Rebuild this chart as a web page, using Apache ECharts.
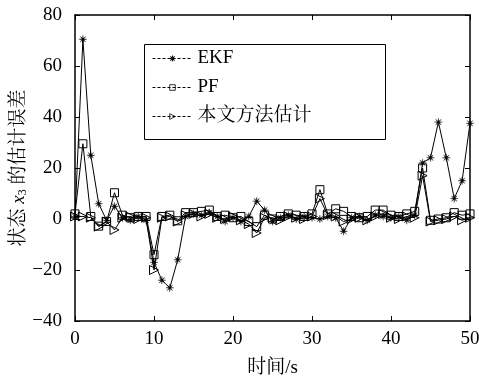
<!DOCTYPE html>
<html>
<head>
<meta charset="utf-8">
<script src="https://cdn.jsdelivr.net/npm/echarts@6/dist/echarts.min.js"></script>
<style>html,body{margin:0;padding:0;background:#fff}#c{width:479px;height:379px}</style>
</head>
<body>
<div id="c"></div>
<script>
var timeSteps = [];
for (var i = 0; i <= 50; i++) timeSteps.push(i);
var xTicks = [0, 10, 20, 30, 40, 50];
var yTicks = [-40, -20, 0, 20, 40, 60, 80];
var seriesNames = ['EKF', 'PF', '本文方法估计'];
var ekfErr = [1, 70.5, 25, 6, -0.5, 5, 0.5, -0.5, 1, -0.5, -17, -24, -27, -16, 1, 2, 1.5, 2.5, 1, -1, 0.5, -1, 1, 7, 3.5, -1, 0.5, 1.5, 0, 1, 0.5, 0, 1, 0.5, -4.8, 0.5, 1, -0.5, 1.5, 1, 0.5, 1, -0.5, 1.5, 22, 24, 38, 24, 8, 15, 37.5];
var pfErr = [2, 29.5, 1, -2.8, -1, 10.3, 1.5, 0.5, 1, 1, -14, 1, 1.5, -0.7, 2.5, 2.5, 3, 3.5, 1, 1.5, 0.5, 1, -1, -3, 1.5, 0, 1, 2, 1.5, 1, 2, 11.5, 2, 4, 3, 1, 0.5, 1, 3.5, 3.5, 1.5, 1, 2, 3, 20, -0.5, 0, 0.5, 2.5, 1.5, 2];
var oursErr = [1, 1, 0.5, -3, -1, -4.3, 0.5, 1, 0, 0.5, -20, 0.5, 1, -1, 1.5, 2, 1, 2, 0.5, 0, 1, -0.5, -2, -5.5, 0.5, 0.5, -0.5, 1, 0.5, 0, 1, 8, 1.5, 1, -1, 0, 0.5, -0.5, 1, 2, 0.5, 0, 1, 0.5, 17, -1, -0.5, 0, 1, -0.5, 0.5];

function pairs(arr) { return arr.map(function (v, i) { return [timeSteps[i], v]; }); }

var font = '"Liberation Serif", "Times New Roman", "Noto Serif CJK SC", "Noto Sans CJK SC", serif';
var starPath = 'path://M5,0 L5.5,3.8 L8.5,1.5 L6.2,4.5 L10,5 L6.2,5.5 L8.5,8.5 L5.5,6.2 L5,10 L4.5,6.2 L1.5,8.5 L3.8,5.5 L0,5 L3.8,4.5 L1.5,1.5 L4.5,3.8 Z';
var triPath = 'path://M0,0 L10,5 L0,10 Z';

var chart = echarts.init(document.getElementById('c'), null, {renderer: 'canvas'});
var axisLine = {show: true, onZero: false, lineStyle: {color: '#000', width: 1.5}};
var tickStyle = {show: true, inside: true, length: 5, lineStyle: {color: '#000', width: 1}};
chart.setOption({
  animation: false,
  backgroundColor: '#fff',
  grid: {left: 75, right: 9, top: 15, bottom: 58, containLabel: false, outerBoundsMode: 'none'},
  graphic: [{
    type: 'rect', left: 142, top: 42, z: 50, silent: true,
    shape: {width: 241, height: 95},
    style: {fill: 'none', stroke: '#000', lineWidth: 1}
  }],
  legend: {
    show: true,
    data: seriesNames,
    orient: 'vertical',
    left: 142, top: 42,
    padding: [7, 10, 10, 10],
    itemGap: 10,
    itemWidth: 40,
    itemHeight: 7,
    borderWidth: 0,
    inactiveColor: '#000',
    lineStyle: {type: [3, 2], width: 1, color: '#000'},
    itemStyle: {borderWidth: 0.8, borderColor: '#000'},
    textStyle: {fontFamily: font, fontSize: 19, color: '#000'}
  },
  xAxis: [{
    type: 'value', min: 0, max: 50, interval: 10,
    name: '时间/s', nameLocation: 'middle', nameGap: 38, nameMoveOverlap: false,
    nameTextStyle: {fontFamily: font, fontSize: 19, color: '#000'},
    axisLine: axisLine, axisTick: tickStyle, splitLine: {show: false},
    axisLabel: {fontFamily: font, fontSize: 19, color: '#000', margin: 9,
      formatter: function (v) { return xTicks.indexOf(v) >= 0 ? String(v) : ''; }}
  }, {
    type: 'value', min: 0, max: 50, interval: 10, position: 'top',
    axisLine: axisLine, axisTick: tickStyle, axisLabel: {show: false}, splitLine: {show: false}
  }],
  yAxis: [{
    type: 'value', min: -40, max: 80, interval: 20,
    name: '{n|状态 }{i|x}{s|3}{n| 的估计误差}', nameLocation: 'middle', nameGap: 46, nameMoveOverlap: false,
    nameTextStyle: {fontFamily: font, fontSize: 19, color: '#000',
      rich: {
        n: {fontFamily: font, fontSize: 19, color: '#000'},
        i: {fontFamily: font, fontSize: 19, fontStyle: 'italic', color: '#000'},
        s: {fontFamily: font, fontSize: 12, color: '#000', padding: [8, 0, 0, 0]}
      }},
    axisLine: axisLine, axisTick: tickStyle, splitLine: {show: false},
    axisLabel: {fontFamily: font, fontSize: 19, color: '#000', margin: 13,
      formatter: function (v) { return yTicks.indexOf(v) >= 0 ? (v < 0 ? '\u2212' + Math.abs(v) : String(v)) : ''; }}
  }, {
    type: 'value', min: -40, max: 80, interval: 20, position: 'right',
    axisLine: axisLine, axisTick: tickStyle, axisLabel: {show: false}, splitLine: {show: false}
  }],
  series: [{
    name: seriesNames[0], type: 'line', data: pairs(ekfErr),
    symbol: starPath, symbolSize: 8, showAllSymbol: true,
    lineStyle: {color: '#000', width: 1},
    itemStyle: {color: '#000', borderColor: '#000', borderWidth: 0.3},
    z: 3
  }, {
    name: seriesNames[1], type: 'line', data: pairs(pfErr),
    symbol: 'rect', symbolSize: 8, showAllSymbol: true,
    lineStyle: {color: '#000', width: 1},
    itemStyle: {color: 'rgba(255,255,255,0)', borderColor: '#000', borderWidth: 1},
    z: 2
  }, {
    name: seriesNames[2], type: 'line', data: pairs(oursErr),
    symbol: triPath, symbolSize: 9, showAllSymbol: true,
    lineStyle: {color: '#000', width: 1},
    itemStyle: {color: 'rgba(255,255,255,0)', borderColor: '#000', borderWidth: 1},
    z: 2
  }]
});
</script>
</body>
</html>
